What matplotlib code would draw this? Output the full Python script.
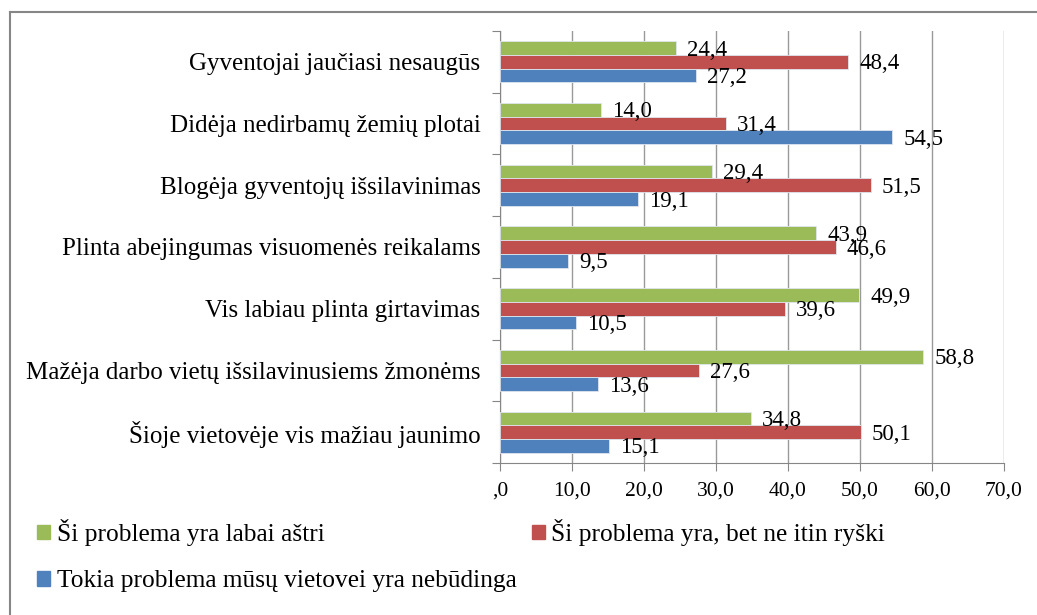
import matplotlib.pyplot as plt
import numpy as np
from matplotlib.lines import Line2D
from matplotlib.patches import Patch

plt.rcParams['font.family'] = ['Liberation Serif', 'DejaVu Serif']

categories = ['Gyventojai jaučiasi nesaugūs',
              'Didėja nedirbamų žemių plotai',
              'Blogėja gyventojų išsilavinimas',
              'Plinta abejingumas visuomenės reikalams',
              'Vis labiau plinta girtavimas',
              'Mažėja darbo vietų išsilavinusiems žmonėms',
              'Šioje vietovėje vis mažiau jaunimo']
labai_astri = [24.4, 14.0, 29.4, 43.9, 49.9, 58.8, 34.8]
ne_itin_ryski = [48.4, 31.4, 51.5, 46.6, 39.6, 27.6, 50.1]
nebudinga = [27.2, 54.5, 19.1, 9.5, 10.5, 13.6, 15.1]
series_names = ['Ši problema yra labai aštri',
                'Ši problema yra, bet ne itin ryški',
                'Tokia problema mūsų vietovei yra nebūdinga']
colors = ['#9BBB59', '#C0504D', '#4F81BD']
xticks = [0, 10, 20, 30, 40, 50, 60, 70]
xtick_labels = [',0', '10,0', '20,0', '30,0', '40,0', '50,0', '60,0', '70,0']

fig = plt.figure(figsize=(10.37, 6.15), dpi=100)
ax = fig.add_axes([500 / 1037, 1 - 463 / 615, 504 / 1037, 432 / 615])

y = np.arange(len(categories))
h = 0.222
all_series = [labai_astri, ne_itin_ryski, nebudinga]
for k, (vals, col) in enumerate(zip(all_series, colors)):
    pos = y + (k - 1) * h
    ax.barh(pos, vals, height=h, color=col, edgecolor='#dfe6ef', linewidth=0.6, zorder=3)
    for p, v in zip(pos, vals):
        ax.annotate(f'{v:.1f}'.replace('.', ','), (v, p), xytext=(8, -1.5),
                    textcoords='offset points', va='center', ha='left',
                    fontsize=16.5, zorder=4)

ax.set_xlim(0, 70)
ax.set_ylim(len(categories) - 0.5, -0.5)
ax.set_xticks(xticks)
ax.set_xticklabels(xtick_labels, fontsize=15.5)
ax.set_yticks(np.arange(len(categories) + 1) - 0.5)
ax.set_yticklabels([])
ax.set_yticks(y, minor=True)
ax.set_yticklabels(categories, minor=True, fontsize=18)
ax.tick_params(axis='y', which='minor', length=0, pad=14)
ax.tick_params(axis='y', which='major', length=6, color='#868686')
ax.tick_params(axis='x', length=6, color='#868686', pad=7)
ax.grid(axis='x', color='#9a9a9a', linewidth=1, zorder=0)
for s in ['top', 'right']:
    ax.spines[s].set_visible(False)
for s in ['left', 'bottom']:
    ax.spines[s].set_color('#868686')

# outer chart border (top and left only visible)
fig.add_artist(Line2D([10 / 1037, 1], [1 - 12 / 615, 1 - 12 / 615], color='#868686', lw=1.5))
fig.add_artist(Line2D([10 / 1037, 10 / 1037], [0, 1 - 12 / 615], color='#868686', lw=1.5))

handles = [Patch(color=c) for c in colors]
order = [0, 2, 1]
fig.legend([handles[i] for i in order], [series_names[i] for i in order],
           loc='upper left', bbox_to_anchor=(37 / 1037, 1 - 519 / 615), ncol=2,
           frameon=False, fontsize=18.3, handlelength=0.52, handleheight=0.52,
           handletextpad=0.25, columnspacing=0.6, labelspacing=0.95,
           borderpad=0, borderaxespad=0)

fig.savefig('out.png', dpi=100)
